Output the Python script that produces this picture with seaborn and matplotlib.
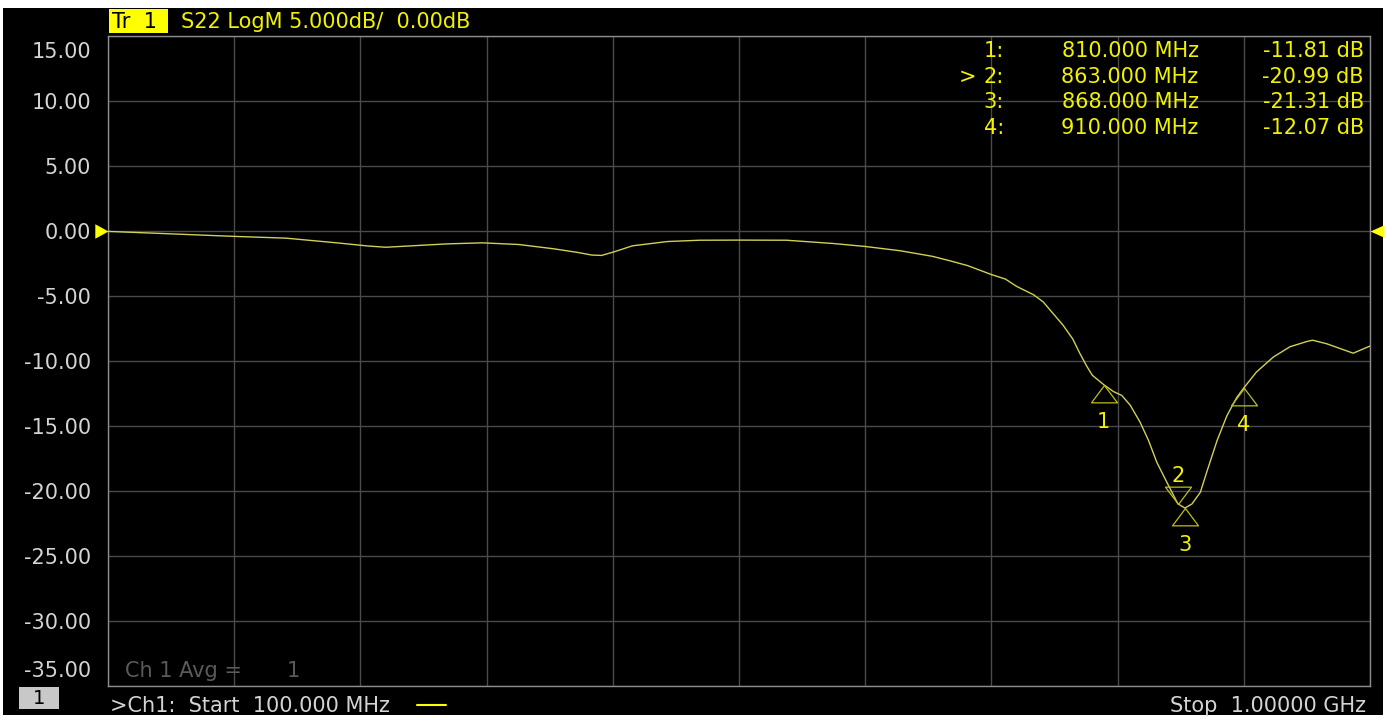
import numpy as np
import pandas as pd
import matplotlib
matplotlib.use("Agg")
import matplotlib.pyplot as plt
import seaborn as sns
from matplotlib.path import Path
from matplotlib.patches import Rectangle
from matplotlib.lines import Line2D

# ---------------- data ----------------
freq_mhz = [100, 138, 189, 227, 265, 285, 298, 315, 342, 367, 393, 418, 435, 445,
            452, 461, 474, 499, 522, 550, 584, 617, 640, 665, 688, 700, 713, 730,
            740, 748, 760, 767, 774, 781, 788, 793, 798, 802, 810, 817, 823, 829,
            836, 842, 848, 855, 863, 868, 873, 879, 884, 891, 898, 905, 910, 919,
            931, 943, 955, 959, 969, 981, 988, 1000]
s22_db = [-0.03, -0.19, -0.41, -0.55, -0.93, -1.15, -1.25, -1.15, -0.99, -0.91,
          -1.04, -1.37, -1.65, -1.85, -1.88, -1.6, -1.14, -0.81, -0.71, -0.70,
          -0.71, -0.96, -1.19, -1.52, -1.95, -2.28, -2.66, -3.35, -3.7, -4.26,
          -4.9, -5.46, -6.35, -7.23, -8.3, -9.4, -10.4, -11.1, -11.81, -12.35,
          -12.65, -13.4, -14.7, -16.1, -17.8, -19.3, -20.99, -21.31, -21.0, -20.1,
          -18.4, -16.1, -14.2, -12.8, -12.07, -10.85, -9.7, -8.9, -8.5, -8.4,
          -8.67, -9.13, -9.4, -8.85]

marker_ids = ["1", "2", "3", "4"]
marker_freq = [810.0, 863.0, 868.0, 910.0]
marker_db = [-11.81, -20.99, -21.31, -12.07]
active_marker = "2"

ytick_vals = [15, 10, 5, 0, -5, -10, -15, -20, -25, -30, -35]
ytick_labels = ["15.00", "10.00", "5.00", "0.00", "-5.00", "-10.00", "-15.00",
                "-20.00", "-25.00", "-30.00", "-35.00"]
start_mhz, stop_mhz = 100, 1000
ref_level = 0.0

header_tr = "Tr  1"
header_txt = "S22 LogM 5.000dB/  0.00dB"
avg_txt = "Ch 1 Avg ="
avg_val = "1"
start_txt = ">Ch1:  Start  100.000 MHz"
stop_txt = "Stop  1.00000 GHz"
chan_box = "1"

# ---------------- style ----------------
W, H = 1387, 720
sns.set_style("dark")
plt.rcParams['font.family'] = ['DejaVu Sans']
FS = 15
YEL = '#f2f200'
TRACE = '#d0d058'
MKR = '#bdbd1e'
GRAY_TXT = '#d4d4d4'

def fx(x):
    return x / W

def fy(y):
    return 1 - y / H

fig = plt.figure(figsize=(W / 100, H / 100), dpi=100, facecolor='white')
fig.add_artist(Rectangle((fx(3), fy(715)), 1380 / W, 707 / H, transform=fig.transFigure,
                         facecolor='black', edgecolor='none', zorder=-10))

ax = fig.add_axes([fx(108), fy(686), 1262 / W, 650 / H])
ax.set_facecolor('black')

df = pd.DataFrame({'freq': freq_mhz, 'db': s22_db})
sns.lineplot(data=df, x='freq', y='db', ax=ax, color=TRACE, lw=1.0, sort=False, zorder=3)

ax.set_xlim(start_mhz, stop_mhz)
ax.set_ylim(min(ytick_vals), max(ytick_vals))
ax.set_xticks(np.linspace(start_mhz, stop_mhz, 11))
ax.set_xticklabels([])
ax.set_yticks(ytick_vals)
ax.set_yticklabels([''] + ytick_labels[1:-1] + [''])
ax.tick_params(axis='both', length=0, labelsize=FS, labelcolor=GRAY_TXT, pad=12.2)
ax.grid(True, color='#4a4a4a', lw=1.0)
ax.set_xlabel('')
ax.set_ylabel('')
for s in ax.spines.values():
    s.set_visible(True)
    s.set_color('#8c8c8c')
    s.set_linewidth(1.0)

# end tick labels, shifted inside the frame
ax.annotate(ytick_labels[0], xy=(0, ytick_vals[0]), xycoords=ax.get_yaxis_transform(),
            xytext=(-17, -22), textcoords='offset pixels', ha='right', va='baseline',
            fontsize=FS, color=GRAY_TXT, annotation_clip=False)
ax.annotate(ytick_labels[-1], xy=(0, ytick_vals[-1]), xycoords=ax.get_yaxis_transform(),
            xytext=(-17, 9), textcoords='offset pixels', ha='right', va='baseline',
            fontsize=FS, color=GRAY_TXT, annotation_clip=False)

# reference level triangles
left_tri = Path([(0, 0), (-1, 0.55), (-1, -0.55), (0, 0)],
                [Path.MOVETO, Path.LINETO, Path.LINETO, Path.CLOSEPOLY])
right_tri = Path([(0, 0), (1, 0.45), (1, -0.45), (0, 0)],
                 [Path.MOVETO, Path.LINETO, Path.LINETO, Path.CLOSEPOLY])
ax.plot([0], [ref_level], transform=ax.get_yaxis_transform(), marker=left_tri, ms=19,
        color='#ffff00', mec='none', clip_on=False, zorder=6, ls='none')
ax.plot([1], [ref_level], transform=ax.get_yaxis_transform(), marker=right_tri, ms=20,
        color='#ffff00', mec='none', clip_on=False, zorder=6, ls='none')

# markers
tri_up = Path([(0, 0), (-0.75, -1), (0.75, -1), (0, 0)],
              [Path.MOVETO, Path.LINETO, Path.LINETO, Path.CLOSEPOLY])
tri_down = Path([(0, 0), (-0.75, 1), (0.75, 1), (0, 0)],
                [Path.MOVETO, Path.LINETO, Path.LINETO, Path.CLOSEPOLY])
for mid, f, v in zip(marker_ids, marker_freq, marker_db):
    active = mid == active_marker
    ax.plot([f], [v], marker=tri_down if active else tri_up, ms=25, mfc='none',
            mec=MKR, mew=0.9, ls='none', zorder=5)
    ax.annotate(mid, xy=(f, v), xytext=(0, 22 if active else -43),
                textcoords='offset pixels', ha='center', va='baseline',
                fontsize=FS, color=YEL, zorder=6)

# marker readout table
for i, (mid, f, v) in enumerate(zip(marker_ids, marker_freq, marker_db)):
    yb = 57 + 25.7 * i
    if mid == active_marker:
        fig.text(fx(976), fy(yb), ">", ha='right', va='baseline', fontsize=FS, color=YEL)
    fig.text(fx(1004), fy(yb), f"{mid}:", ha='right', va='baseline', fontsize=FS, color=YEL)
    fig.text(fx(1130), fy(yb), f"{f:.3f} MHz", ha='center', va='baseline', fontsize=FS, color=YEL)
    fig.text(fx(1364), fy(yb), f"{v:.2f} dB", ha='right', va='baseline', fontsize=FS, color=YEL)

# header
fig.add_artist(Rectangle((fx(109), fy(33)), 59 / W, 24 / H, transform=fig.transFigure,
                         facecolor='#ffff00', edgecolor='none', zorder=2))
fig.text(fx(112), fy(28), header_tr, ha='left', va='baseline', fontsize=FS, color='black', zorder=3)
fig.text(fx(181), fy(28), header_txt, ha='left', va='baseline', fontsize=FS, color=YEL)

# bottom texts
fig.text(fx(125), fy(677), avg_txt, ha='left', va='baseline', fontsize=FS, color='#5a5a5a')
fig.text(fx(287), fy(677), avg_val, ha='left', va='baseline', fontsize=FS, color='#5a5a5a')
fig.add_artist(Rectangle((fx(19), fy(709)), 40 / W, 22 / H, transform=fig.transFigure,
                         facecolor='#c8c8c8', edgecolor='none', zorder=2))
fig.text(fx(39), fy(704.5), chan_box, ha='center', va='baseline', fontsize=14, color='black', zorder=3)
fig.text(fx(110), fy(712), start_txt, ha='left', va='baseline', fontsize=FS, color=GRAY_TXT)
fig.add_artist(Line2D([fx(417), fx(446)], [fy(705), fy(705)], transform=fig.transFigure,
                      color='#ffff00', lw=1.5))
fig.text(fx(1366), fy(712), stop_txt, ha='right', va='baseline', fontsize=FS, color=GRAY_TXT)

fig.savefig("out.png", dpi=100, facecolor='white')
